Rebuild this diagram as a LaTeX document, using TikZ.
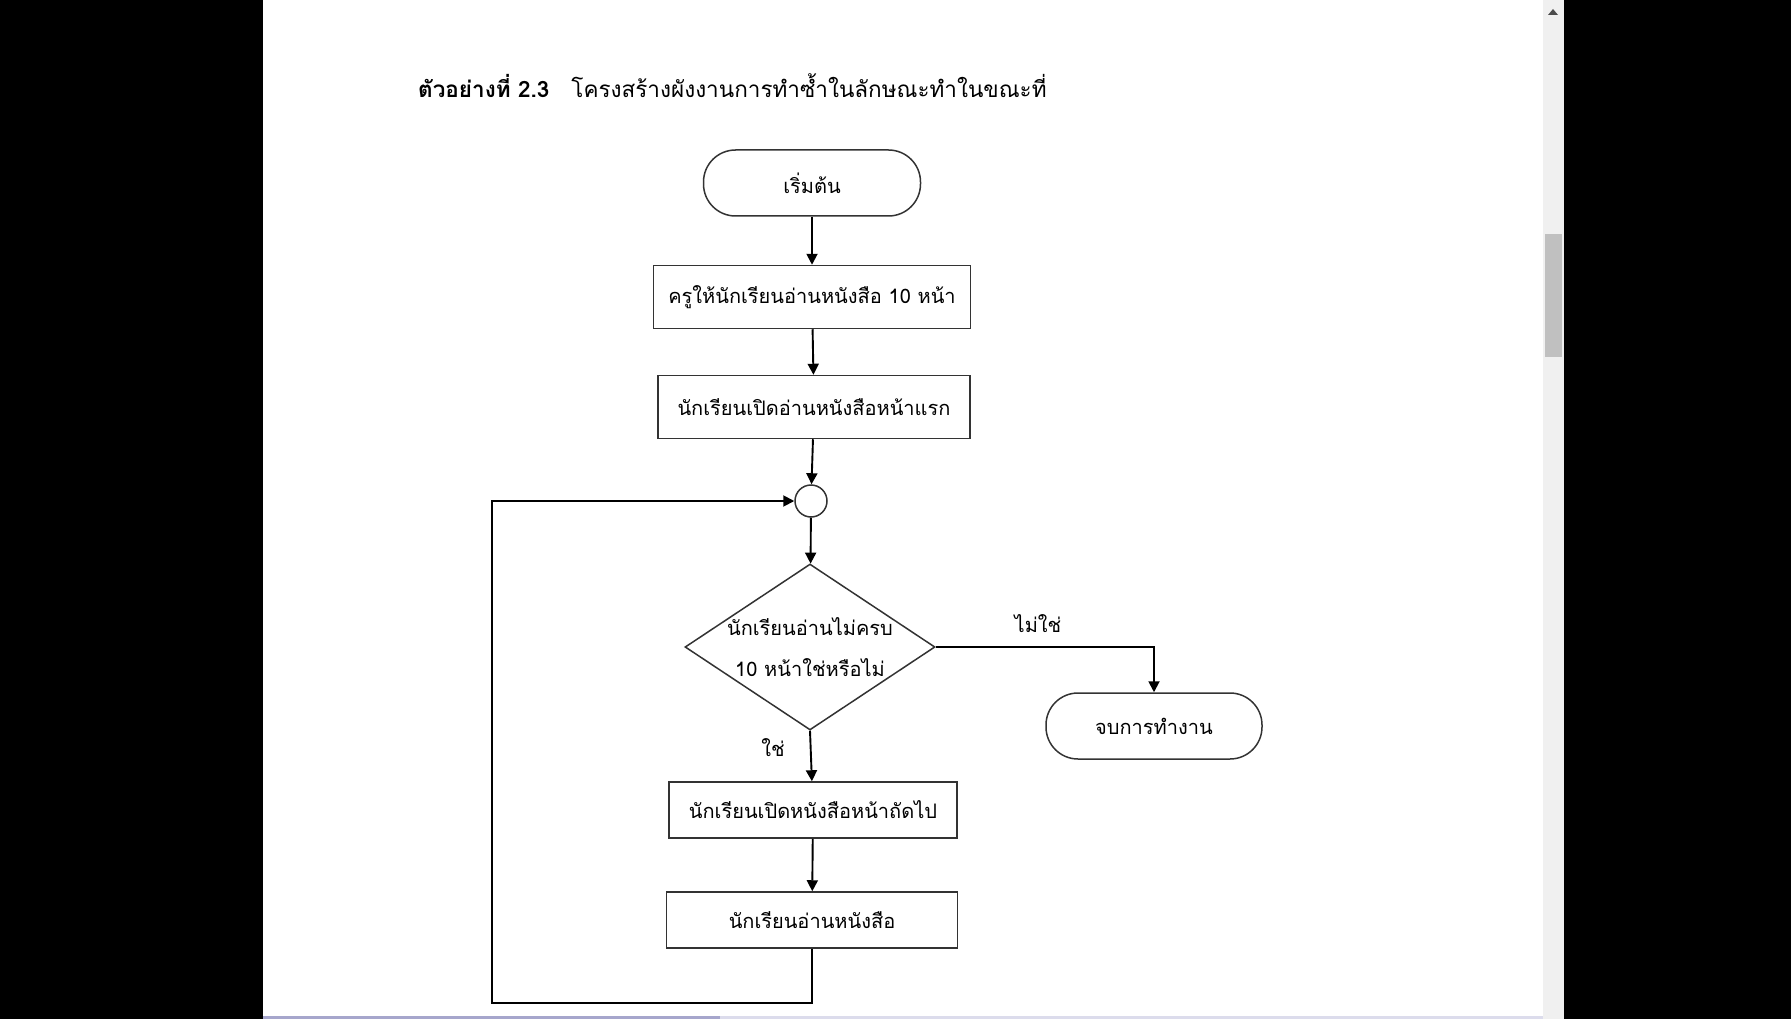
\documentclass[tikz,border=0pt]{standalone}
\usepackage{fontspec}
\newfontfamily\thaifont[Script=Thai]{Loma}
\usetikzlibrary{shapes.geometric,arrows.meta}

\definecolor{boxline}{HTML}{333333}
\definecolor{track}{HTML}{F0F0F0}
\definecolor{thumb}{HTML}{C0C0C0}
\definecolor{strip}{HTML}{A6A6CC}
\definecolor{striplt}{HTML}{DCDCEC}

\begin{document}
\begin{tikzpicture}[x=1pt, y=-1pt,
  txt/.style={font=\thaifont\fontsize{20}{22}\selectfont},
  term/.style={txt, rectangle, rounded corners=32pt, draw=boxline, line width=1.5pt, minimum height=66pt},
  proc/.style={txt, rectangle, draw=boxline, line width=1.5pt, inner sep=0pt},
  dec/.style={diamond, aspect=1.5, draw=boxline, line width=1.5pt, inner sep=-8pt, minimum width=250pt, minimum height=166pt, align=center, font=\thaifont\fontsize{20}{41}\selectfont},
  joint/.style={circle, draw=boxline, line width=1.5pt, minimum size=32pt, inner sep=0pt},
  flow/.style={-{Triangle[length=11pt,width=11pt]}, line width=1.9pt, draw=black}]
\useasboundingbox (0,0) rectangle (1791,1019);
% page frame
\fill[black] (0,0) rectangle (263,1019);
\fill[black] (1564,0) rectangle (1791,1019);
\fill[track] (1543,0) rectangle (1564,1019);
\fill[thumb] (1545,234) rectangle (1562,357);
\fill[black!70] (1548,15) -- (1558,15) -- (1553,9) -- cycle;
\fill[strip] (263,1016) rectangle (720,1019);
\fill[striplt] (720,1016) rectangle (1543,1019);
% title
\node[font=\thaifont\fontsize{22.5}{24}\selectfont, anchor=base west, inner sep=0pt] (title) at (418,98) {\textbf{ตัวอย่างที่ 2.3}\hspace{22pt}โครงสร้างผังงานการทำซ้ำในลักษณะทำในขณะที่};
% flowchart
\node[term, minimum width=217pt] (start) at (812,183) {เริ่มต้น};
\node[proc, minimum width=317pt, minimum height=63pt] (read10) at (812,297) {ครูให้นักเรียนอ่านหนังสือ 10 หน้า};
\node[proc, minimum width=312pt, minimum height=63pt] (first) at (814,407) {นักเรียนเปิดอ่านหนังสือหน้าแรก};
\node[joint] (loop) at (811,501) {};
\node[dec] (check) at (810,647) {นักเรียนอ่านไม่ครบ\\10 หน้าใช่หรือไม่};
\node[term, minimum width=216pt] (stop) at (1154,726) {จบการทำงาน};
\node[proc, minimum width=288pt, minimum height=56pt] (next) at (813,810) {นักเรียนเปิดหนังสือหน้าถัดไป};
\node[proc, minimum width=291pt, minimum height=56pt] (readbk) at (812,920) {นักเรียนอ่านหนังสือ};
\node[txt] (no) at (1038,624) {ไม่ใช่};
\node[txt] (yes) at (773,748) {ใช่};
\coordinate (back) at (492,1003);
\draw[flow] (start) -- (read10);
\draw[flow] (read10) -- (first);
\draw[flow] (first) -- (loop);
\draw[flow] (loop) -- (check);
\draw[flow] (check.east) -| (stop.north);
\draw[flow] (check.south) -- (next);
\draw[flow] (next) -- (readbk);
\draw[flow] (readbk.south) |- (back) |- (loop.west);
\end{tikzpicture}
\end{document}
